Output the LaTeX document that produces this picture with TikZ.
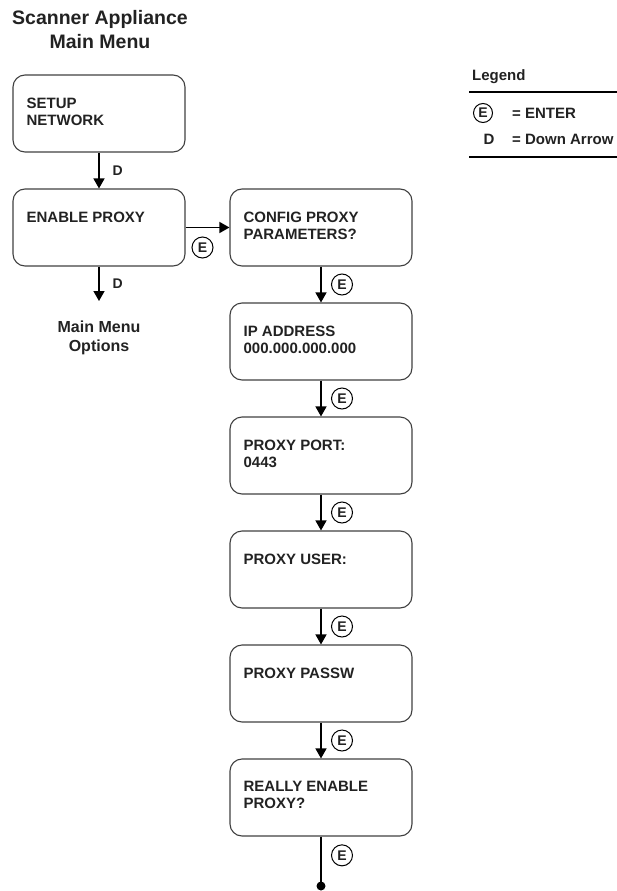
\documentclass[tikz,border=0pt]{standalone}
\usepackage{fontspec}
\setmainfont{Liberation Sans}
\usetikzlibrary{arrows.meta,positioning}
\definecolor{boxline}{HTML}{404040}
\definecolor{textgray}{HTML}{222222}
\tikzset{
  menubox/.style={draw=boxline, line width=1.1pt, rounded corners=12pt, minimum height=77pt, inner sep=0pt},
  boxtext/.style={anchor=north west, align=left, inner sep=0pt, text=textgray, font=\bfseries\fontsize{15}{17}\selectfont},
  flow/.style={line width=1.4pt, -{Triangle[width=11pt,length=10pt]}},
  elabel/.style={circle, draw, line width=1pt, minimum size=21pt, inner sep=0pt, text=textgray, font=\bfseries\fontsize{14}{14}\selectfont},
  dlabel/.style={anchor=west, inner sep=0pt, xshift=13pt, text=textgray, font=\bfseries\fontsize{14}{14}\selectfont},
  legtext/.style={anchor=west, inner sep=0pt, text=textgray, font=\bfseries\fontsize{15}{15}\selectfont}
}
\begin{document}
\begin{tikzpicture}[x=1pt, y=-1pt]
    \useasboundingbox (0,0) rectangle (617,891);

    % title above the left column
    \node[anchor=north, align=center, inner sep=0pt, text=textgray, font=\bfseries\fontsize{19.5}{24}\selectfont] (title) at (100,10) {Scanner Appliance\\Main Menu};

    % left column: main menu items
    \node[menubox, minimum width=172pt] (setup) at (99,113.5) {};
    \node[boxtext] (setuptxt) at ([shift={(14pt,-23pt)}]setup.north west) {SETUP\\NETWORK};
    \node[menubox, minimum width=172pt] (enable) at (99,227.5) {};
    \node[boxtext] (enabletxt) at ([shift={(14pt,-23pt)}]enable.north west) {ENABLE PROXY};

    % down arrows of the main menu
    \coordinate (downend) at (99,301);
    \draw[flow] (setup) -- node[dlabel] {D} (enable);
    \draw[flow] (enable) -- node[dlabel] {D} (downend);
    \node[anchor=north, align=center, inner sep=0pt, text=textgray, font=\bfseries\fontsize{16}{19}\selectfont] (options) at (99,321) {Main Menu\\Options};

    % right column: proxy settings
    \node[menubox, minimum width=182pt] (config) at (321,227.5) {};
    \node[boxtext] (configtxt) at ([shift={(14pt,-23pt)}]config.north west) {CONFIG PROXY\\PARAMETERS?};
    \node[menubox, minimum width=182pt] (ipaddr) at (321,341.5) {};
    \node[boxtext] (ipaddrtxt) at ([shift={(14pt,-23pt)}]ipaddr.north west) {IP ADDRESS\\000.000.000.000};
    \node[menubox, minimum width=182pt] (port) at (321,455.5) {};
    \node[boxtext] (porttxt) at ([shift={(14pt,-23pt)}]port.north west) {PROXY PORT:\\0443};
    \node[menubox, minimum width=182pt] (user) at (321,569.5) {};
    \node[boxtext] (usertxt) at ([shift={(14pt,-23pt)}]user.north west) {PROXY USER:};
    \node[menubox, minimum width=182pt] (passw) at (321,683.5) {};
    \node[boxtext] (passwtxt) at ([shift={(14pt,-23pt)}]passw.north west) {PROXY PASSW};
    \node[menubox, minimum width=182pt] (really) at (321,797.5) {};
    \node[boxtext] (reallytxt) at ([shift={(14pt,-23pt)}]really.north west) {REALLY ENABLE\\PROXY?};

    % enter arrows
    \draw[flow] (enable) -- node[elabel, anchor=north, xshift=-5pt, yshift=-9pt] {E} (config);
    \foreach \a/\b in {config/ipaddr, ipaddr/port, port/user, user/passw, passw/really}
        \draw[flow] (\a) -- node[elabel, anchor=west, xshift=10pt] {E} (\b);

    % last enter ends in a dot
    \coordinate (finish) at (321,886);
    \draw[line width=1.4pt] (really) -- node[elabel, anchor=west, xshift=10pt, pos=0.38] {E} (finish);
    \fill (finish) circle (4.5pt);

    % legend
    \node[legtext] (legend) at (472,77) {Legend};
    \draw[line width=1.1pt] (469,92) -- (617,92);
    \node[elabel, minimum size=19pt] (legE) at (483,113) {E};
    \node[legtext] (legenter) at (512,113) {= ENTER};
    \node[legtext, anchor=center] (legD) at (489,139) {D};
    \node[legtext] (legdown) at (512,139) {= Down Arrow};
    \draw[line width=1.1pt] (469,157) -- (617,157);

\end{tikzpicture}
\end{document}
